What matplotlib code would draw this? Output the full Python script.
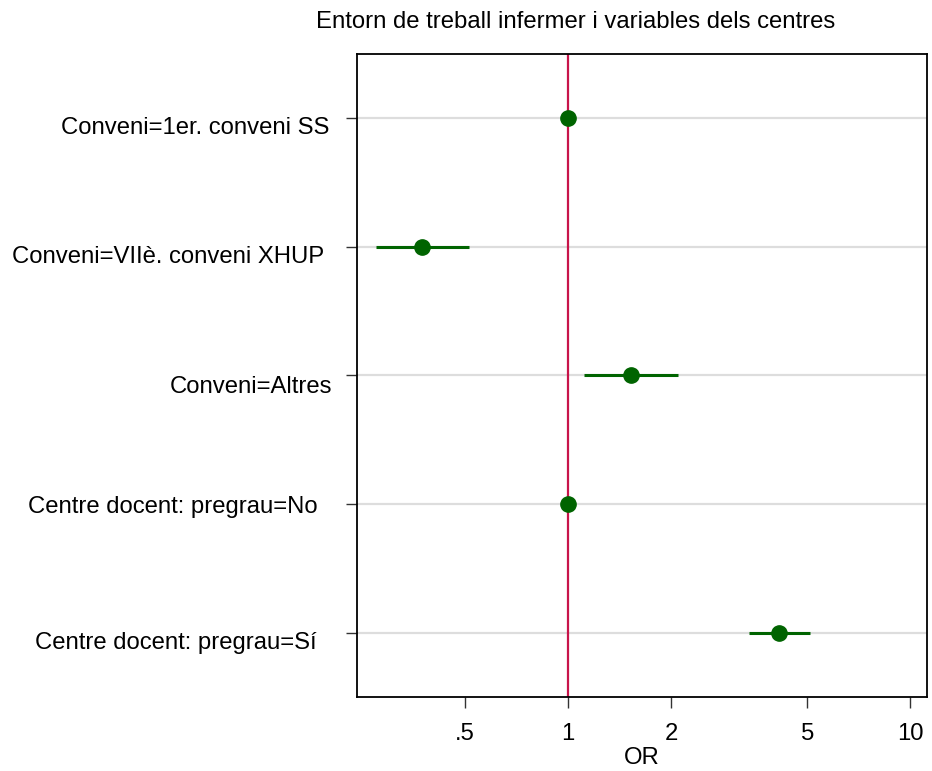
import numpy as np
import matplotlib.pyplot as plt
import matplotlib.transforms as mtransforms

plt.rcParams['font.family'] = ['Liberation Sans', 'DejaVu Sans']

labels = ['Conveni=1er. conveni SS', 'Conveni=VIIè. conveni XHUP', 'Conveni=Altres',
          'Centre docent: pregrau=No', 'Centre docent: pregrau=Sí']
odds = [1.0, 0.374, 1.53, 1.0, 4.14]
ci_low = [1.0, 0.275, 1.114, 1.0, 3.38]
ci_high = [1.0, 0.514, 2.10, 1.0, 5.10]
xticks = [0.5, 1, 2, 5, 10]
xticklabels = ['.5', '1', '2', '5', '10']
# small offsets (px) of each label, as in the original
label_dx = [0, -5, 3, -12, -13]
label_dy = [-7, -8, -9, 0, -8]

green = '#006400'
red = '#c8144a'

fig = plt.figure(figsize=(9.32, 7.71), dpi=100)
ax = fig.add_axes([357 / 932, 1 - 697 / 771, 570 / 932, 643 / 771])

pos = np.arange(1, len(labels) + 1)
for p in pos:
    ax.axhline(p, color='#dddddd', lw=1.6, zorder=0)
ax.axvline(1, color=red, lw=1.6, zorder=1)
ax.hlines(pos, ci_low, ci_high, color=green, lw=2.2, zorder=2)
ax.plot(odds, pos, 'o', color=green, ms=11, zorder=3)

ax.set_xscale('log')
ax.set_xlim(0.2415, 11.2)
ax.set_ylim(5.5, 0.5)
ax.set_xticks(xticks)
ax.set_xticklabels(xticklabels)
ax.minorticks_off()
ax.set_yticks(pos)
ax.set_yticklabels(labels)
ax.tick_params(axis='both', labelsize=17.2, length=8, width=1, color='#333333')
ax.tick_params(axis='y', pad=12)
ax.tick_params(axis='x', pad=11)
for lab, dx, dy in zip(ax.get_yticklabels(), label_dx, label_dy):
    lab.set_transform(lab.get_transform() +
                      mtransforms.ScaledTranslation(dx / 100, dy / 100, fig.dpi_scale_trans))

for s in ax.spines.values():
    s.set_linewidth(1.3)
    s.set_color('black')

ax.set_xlabel('OR', fontsize=17.2, labelpad=1.5)
fig.text(576 / 932, 1 - 22 / 771, 'Entorn de treball infermer i variables dels centres',
         fontsize=17.2, ha='center', va='center')

fig.savefig('out.png', dpi=100)
